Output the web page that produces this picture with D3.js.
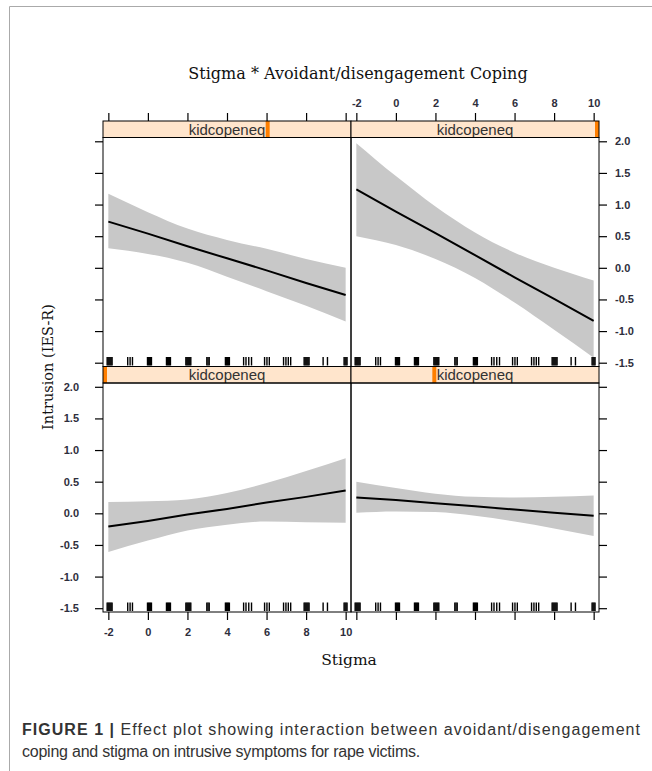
<!DOCTYPE html>
<html>
<head>
<meta charset="utf-8">
<script src="https://cdn.jsdelivr.net/npm/d3@7"></script>
<style>
  body { margin: 0; background: #fff; }
  svg { display: block; }
</style>
</head>
<body>
<div id="chart"></div>
<script>
// effect plot: Stigma * kidcopeneq, four coping levels

const stigmaTicks = [-2, 0, 2, 4, 6, 8, 10];
const intrusionTicks = [-1.5, -1.0, -0.5, 0.0, 0.5, 1.0, 1.5, 2.0];
const stigmaPoints = [-2, 0, 2, 4, 6, 8, 10];

// fitted values and confidence limits, one set per coping level (1 = lowest)
const fit1 = [-0.21, -0.12, -0.02, 0.07, 0.17, 0.26, 0.36];
const upper1 = [0.18, 0.19, 0.22, 0.32, 0.48, 0.67, 0.87];
const lower1 = [-0.61, -0.43, -0.27, -0.18, -0.13, -0.14, -0.15];

const fit2 = [0.25, 0.21, 0.16, 0.11, 0.06, 0.01, -0.04];
const upper2 = [0.50, 0.40, 0.31, 0.26, 0.25, 0.26, 0.28];
const lower2 = [0.01, 0.03, 0.02, -0.04, -0.13, -0.24, -0.36];

const fit3 = [0.73, 0.54, 0.34, 0.15, -0.04, -0.24, -0.43];
const upper3 = [1.17, 0.88, 0.62, 0.44, 0.30, 0.14, 0.00];
const lower3 = [0.31, 0.22, 0.08, -0.14, -0.37, -0.60, -0.85];

const fit4 = [1.24, 0.89, 0.55, 0.20, -0.15, -0.49, -0.84];
const upper4 = [1.97, 1.45, 0.97, 0.56, 0.24, 0.00, -0.20];
const lower4 = [0.50, 0.36, 0.14, -0.16, -0.55, -0.98, -1.42];

// where each panel's coping level sits in the strip (0 = min, 1 = max)
const copingLevels = [0, 1 / 3, 2 / 3, 1];

// observed stigma values shown in the rug
const stigmaRug = [
  -2.06, -2.01, -1.96, -1.91, -1.86, -1.81,
  -1.02, -0.90, -0.78,
  -0.02, 0.03, 0.08, 0.13, 0.18,
  0.94, 0.99, 1.04, 1.09, 1.14,
  1.92, 1.97, 2.02, 2.07, 2.12, 2.17,
  2.98, 3.04, 3.10,
  3.92, 3.97, 4.02, 4.07, 4.12,
  4.84, 4.96, 5.10, 5.24,
  5.90, 6.02, 6.14,
  6.86, 6.98, 7.10, 7.22,
  7.90, 7.95, 8.00, 8.05, 8.10, 8.15,
  8.86, 9.08,
  9.92, 9.97, 10.02, 10.07
];

const width = 652, height = 771;
const leftX = 103, panelW = 248;
const topY = 121, stripH = 16.5, panelH = 229;
const tickColor = '#2e2e3c';

const svg = d3.select('#chart').append('svg')
    .attr('width', width)
    .attr('height', height);

// figure frame
svg.append('path')
    .attr('d', `M9.5,${height} V6.5 H${width}`)
    .attr('fill', 'none')
    .attr('stroke', '#aaa')
    .attr('stroke-width', 1);

const panels = [
  { row: 1, col: 0, fit: fit1, upper: upper1, lower: lower1, level: copingLevels[0] },
  { row: 1, col: 1, fit: fit2, upper: upper2, lower: lower2, level: copingLevels[1] },
  { row: 0, col: 0, fit: fit3, upper: upper3, lower: lower3, level: copingLevels[2] },
  { row: 0, col: 1, fit: fit4, upper: upper4, lower: lower4, level: copingLevels[3] }
];

panels.forEach(p => {
  const x0 = leftX + p.col * panelW;
  const stripY = topY + p.row * (stripH + panelH);
  const y0 = stripY + stripH;

  const x = d3.scaleLinear().domain([-2.27, 10.27]).range([x0, x0 + panelW]);
  const y = d3.scaleLinear().domain([-1.56, 2.06]).range([y0 + panelH, y0]);

  const g = svg.append('g');

  // confidence band
  const area = d3.area()
      .x((d, i) => x(stigmaPoints[i]))
      .y0((d, i) => y(p.lower[i]))
      .y1((d, i) => y(p.upper[i]))
      .curve(d3.curveMonotoneX);
  g.append('path')
      .datum(p.fit)
      .attr('d', area)
      .attr('fill', '#c8c8c8');

  // fitted line
  const line = d3.line()
      .x((d, i) => x(stigmaPoints[i]))
      .y(d => y(d));
  g.append('path')
      .datum(p.fit)
      .attr('d', line)
      .attr('fill', 'none')
      .attr('stroke', '#000')
      .attr('stroke-width', 2);

  // rug
  g.append('g')
      .selectAll('line')
      .data(stigmaRug)
      .enter().append('line')
      .attr('x1', d => x(d))
      .attr('x2', d => x(d))
      .attr('y1', y0 + panelH - 9.5)
      .attr('y2', y0 + panelH - 1)
      .attr('stroke', '#000')
      .attr('stroke-width', 1.4);

  // strip
  g.append('rect')
      .attr('x', x0)
      .attr('y', stripY)
      .attr('width', panelW)
      .attr('height', stripH)
      .attr('fill', '#ffe5cc');
  const barW = 4;
  g.append('rect')
      .attr('x', x0 + p.level * (panelW - barW))
      .attr('y', stripY)
      .attr('width', barW)
      .attr('height', stripH)
      .attr('fill', '#ff7f00');
  g.append('text')
      .attr('x', x0 + panelW / 2)
      .attr('y', stripY + stripH / 2)
      .attr('dy', '0.36em')
      .attr('text-anchor', 'middle')
      .attr('font-family', 'Liberation Sans, Arial, sans-serif')
      .attr('font-size', 15)
      .attr('fill', '#333')
      .text('kidcopeneq');
  g.append('rect')
      .attr('x', x0)
      .attr('y', stripY)
      .attr('width', panelW)
      .attr('height', stripH)
      .attr('fill', 'none')
      .attr('stroke', '#000')
      .attr('stroke-width', 1);

  // panel border
  g.append('rect')
      .attr('x', x0)
      .attr('y', y0)
      .attr('width', panelW)
      .attr('height', panelH)
      .attr('fill', 'none')
      .attr('stroke', '#000')
      .attr('stroke-width', 1);

  // axes: lattice alternates labelled sides
  const fmtY = d => d.toFixed(1);
  const fmtX = d => String(d);
  const noLabel = () => '';

  const yAxisL = d3.axisLeft(y).tickValues(intrusionTicks).tickSize(8)
      .tickPadding(16).tickFormat(p.row === 1 ? fmtY : noLabel);
  const yAxisR = d3.axisRight(y).tickValues(intrusionTicks).tickSize(8)
      .tickPadding(8).tickFormat(p.row === 0 ? fmtY : noLabel);

  if (p.col === 0) {
    g.append('g').attr('transform', `translate(${x0},0)`).call(yAxisL);
  } else {
    g.append('g').attr('transform', `translate(${x0 + panelW},0)`).call(yAxisR);
  }

  if (p.row === 0) {
    const xAxisT = d3.axisTop(x).tickValues(stigmaTicks).tickSize(8)
        .tickPadding(6).tickFormat(p.col === 1 ? fmtX : noLabel);
    g.append('g').attr('transform', `translate(0,${stripY})`).call(xAxisT);
  } else {
    const xAxisB = d3.axisBottom(x).tickValues(stigmaTicks).tickSize(8)
        .tickPadding(8).tickFormat(p.col === 0 ? fmtX : noLabel);
    g.append('g').attr('transform', `translate(0,${y0 + panelH})`).call(xAxisB);
  }
});

svg.selectAll('.domain').remove();
svg.selectAll('.tick line').attr('stroke', '#000').attr('stroke-width', 1.2);
svg.selectAll('.tick text')
    .attr('font-family', 'Liberation Sans, Arial, sans-serif')
    .attr('font-size', 11)
    .attr('font-weight', 'bold')
    .attr('fill', tickColor);

// titles
const serif = 'DejaVu Serif, serif';
svg.append('text')
    .attr('x', 358)
    .attr('y', 78.5)
    .attr('text-anchor', 'middle')
    .attr('font-family', serif)
    .attr('font-size', 16)
    .attr('fill', '#111')
    .text('Stigma * Avoidant/disengagement Coping');

svg.append('text')
    .attr('x', 349)
    .attr('y', 665)
    .attr('text-anchor', 'middle')
    .attr('font-family', serif)
    .attr('font-size', 15.5)
    .attr('fill', '#111')
    .text('Stigma');

svg.append('text')
    .attr('transform', 'translate(53,367) rotate(-90)')
    .attr('text-anchor', 'middle')
    .attr('font-family', serif)
    .attr('font-size', 14.5)
    .attr('fill', '#111')
    .text('Intrusion (IES-R)');

// caption, each line fitted to the width it has in the figure
const captionLines = [
  { bold: 'FIGURE 1 | ', text: 'Effect plot showing interaction between avoidant/disengagement', target: 619 },
  { bold: '', text: 'coping and stigma on intrusive symptoms for rape victims.', target: 398 }
];
captionLines.forEach((c, i) => {
  const t = svg.append('text')
      .attr('x', 22)
      .attr('y', 735 + i * 22)
      .attr('font-family', 'Liberation Sans, Arial, sans-serif')
      .attr('font-size', 16)
      .attr('fill', '#333');
  if (c.bold) t.append('tspan').attr('font-weight', 'bold').text(c.bold);
  t.append('tspan').text(c.text);
  const natural = t.node().getComputedTextLength();
  const chars = (c.bold + c.text).length;
  t.attr('letter-spacing', (c.target - natural) / chars);
});
</script>
</body>
</html>
